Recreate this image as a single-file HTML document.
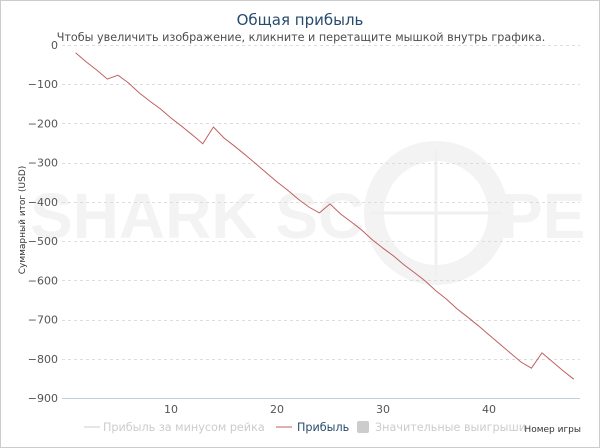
<!DOCTYPE html>
<html><head><meta charset="utf-8"><style>
body{margin:0;background:#fff;}
svg{display:block;font-family:"DejaVu Sans","Liberation Sans",sans-serif;}
</style></head><body>
<svg id="chart" width="600" height="448" viewBox="0 0 600 448">
<rect x="0.5" y="0.5" width="599" height="447" fill="#fff" stroke="#ccc"/>
<g fill="#f3f3f3">
<text x="30" y="238" font-size="64" font-weight="bold" font-family="Liberation Sans">SHARK SC</text>
<circle cx="436" cy="213" r="62" fill="none" stroke="#f3f3f3" stroke-width="20"/>
<line x1="370" y1="213" x2="502" y2="213" stroke="#f0f0f0" stroke-width="3"/>
<line x1="436" y1="150" x2="436" y2="276" stroke="#f0f0f0" stroke-width="3"/>
<text x="500" y="238" font-size="64" font-weight="bold" font-family="Liberation Sans">PE</text>
</g>
<text x="300" y="25" text-anchor="middle" font-size="15" fill="#274b6d">Общая прибыль</text>
<text x="301" y="41" text-anchor="middle" font-size="11.2" fill="#4d4d4d">Чтобы увеличить изображение, кликните и перетащите мышкой внутрь графика.</text>
<g id="grid"></g><g id="yt"></g><g id="xt"></g>
<line x1="62" y1="398.5" x2="580" y2="398.5" stroke="#c0d0e0"/>
<text transform="translate(25,220) rotate(-90)" text-anchor="middle" font-size="9" fill="#333">Суммарный итог (USD)</text>
<text x="581" y="432" text-anchor="end" font-size="9" fill="#333">Номер игры</text>
<path id="line" fill="none" stroke="#c06060" stroke-width="1"/>
<g>
<g><line x1="84" y1="427" x2="100" y2="427" stroke="#ccc"/><text x="103" y="431" font-size="11.2" fill="#ccc">Прибыль за минусом рейка</text></g>
<g><line x1="276" y1="427" x2="292" y2="427" stroke="#c06060"/><text x="297" y="431" font-size="11.2" fill="#274b6d">Прибыль</text></g>
<g><rect x="357" y="421" width="12" height="12" rx="2" fill="#ccc"/><text x="375" y="431" font-size="11.2" fill="#ccc">Значительные выигрыши</text></g>
</g>
</svg>
<script>
const games=[];for(let i=1;i<=48;i++)games.push(i);
const profit=[-20,-43,-64,-87,-77,-97,-122,-143,-163,-186,-207,-229,-252,-209,-237,-258,-280,-303,-326,-349,-370,-393,-413,-428,-405,-431,-451,-472,-497,-518,-538,-561,-581,-602,-627,-648,-673,-694,-716,-739,-762,-785,-808,-824,-785,-808,-831,-852];
const yTicks=[0,-100,-200,-300,-400,-500,-600,-700,-800,-900];
const yTickLabels=["0","−100","−200","−300","−400","−500","−600","−700","−800","−900"];
const xTicks=[10,20,30,40];
const xTickLabels=["10","20","30","40"];
const NS="http://www.w3.org/2000/svg";
const xs=v=>171+(v-10)*10.6;
const ys=v=>45-v*(353/900);
function mk(t,a,p){const e=document.createElementNS(NS,t);for(const k in a)e.setAttribute(k,a[k]);p.appendChild(e);return e;}
const grid=document.getElementById('grid'),yt=document.getElementById('yt'),xt=document.getElementById('xt');
yTicks.forEach((v,i)=>{
 if(v!==-900){const l=mk('line',{x1:62,x2:580,y1:Math.round(ys(v))+0.5,y2:Math.round(ys(v))+0.5,stroke:'#ddd','stroke-dasharray':'3,3'},grid);
 
 }
 const t=mk('text',{x:58,y:ys(v)+4,'text-anchor':'end','font-size':11,fill:'#555'},yt);
 t.textContent=yTickLabels[i];
 
 
});
xTicks.forEach((v,i)=>{
 const t=mk('text',{x:xs(v),y:413,'text-anchor':'middle','font-size':11,fill:'#555'},xt);
 t.textContent=xTickLabels[i];
 
 
});
document.getElementById('line').setAttribute('d',profit.map((v,i)=>(i?'L':'M')+xs(games[i]).toFixed(1)+','+ys(v).toFixed(1)).join(''));
</script>
</body></html>
